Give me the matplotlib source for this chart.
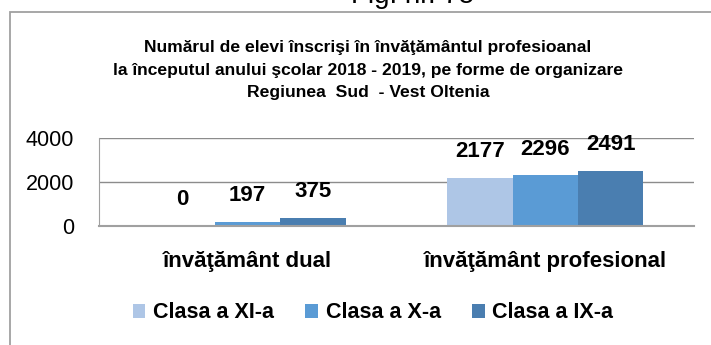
import numpy as np
import matplotlib.pyplot as plt
from matplotlib.patches import Rectangle

plt.rcParams['font.family'] = ['Liberation Sans', 'DejaVu Sans']

categories = ['învăţământ dual', 'învăţământ profesional']
series_names = ['Clasa a XI-a', 'Clasa a X-a', 'Clasa a IX-a']
values = {
    'Clasa a XI-a': [0, 2177],
    'Clasa a X-a': [197, 2296],
    'Clasa a IX-a': [375, 2491],
}
colors = ['#AEC6E6', '#5A9BD5', '#4A7EB0']
yticks = [0, 2000, 4000]

title = ('Numărul de elevi înscrişi în învăţământul profesioanal\n'
         'la începutul anului şcolar 2018 - 2019, pe forme de organizare\n'
         'Regiunea  Sud  - Vest Oltenia')

fig = plt.figure(figsize=(7.11, 3.45), dpi=100)
ax = fig.add_axes([99 / 711, 1 - 226 / 345, 595 / 711, 88 / 345])

x = np.arange(len(categories))
width = 0.22
for i, name in enumerate(series_names):
    pos = x + (i - 1) * width
    bars = ax.bar(pos, values[name], width, color=colors[i], label=name, zorder=2)
    for b, v in zip(bars, values[name]):
        ax.annotate(str(v), (b.get_x() + b.get_width() / 2, v),
                    xytext=(0, 19), textcoords='offset points',
                    ha='center', va='center', fontsize=16, fontweight='bold')

ax.set_xlim(-0.5, 1.5)
ax.set_ylim(0, 4000)
ax.set_yticks(yticks)
ax.set_yticklabels([str(t) for t in yticks], fontsize=15.5)
ax.set_xticks(x)
ax.set_xticklabels(categories, fontsize=16, fontweight='bold')
ax.tick_params(axis='x', length=0, pad=18)
ax.tick_params(axis='y', length=0, pad=18)
ax.grid(axis='y', color='#8c8c8c', linewidth=1.0, zorder=0)
for s in ['top', 'right']:
    ax.spines[s].set_visible(False)
ax.spines['left'].set_color('#a0a0a0')
ax.spines['bottom'].set_color('#a0a0a0')
ax.spines['bottom'].set_linewidth(1.5)

fig.text(368 / 711, 1 - 70 / 345, title, ha='center', va='center',
         fontsize=12.6, fontweight='bold', linespacing=1.6)
# figure caption sits mostly above the top edge
fig.text(413 / 711, 1 - 3 / 345, 'Fig. nr. 75', ha='center', va='baseline',
         fontsize=20)

fig.legend(loc='center', bbox_to_anchor=(373 / 711, 1 - 313 / 345), ncol=3,
           frameon=False, prop={'size': 15.5, 'weight': 'bold'},
           handlelength=0.6, handleheight=0.6, handletextpad=0.35,
           columnspacing=1.45)

fig.patches.append(Rectangle((10 / 711, -0.1), 1.2, 1.1 - 12 / 345,
                             transform=fig.transFigure, fill=False,
                             edgecolor='#a0a0a0', linewidth=1.3))

fig.savefig('out.png', dpi=100)
